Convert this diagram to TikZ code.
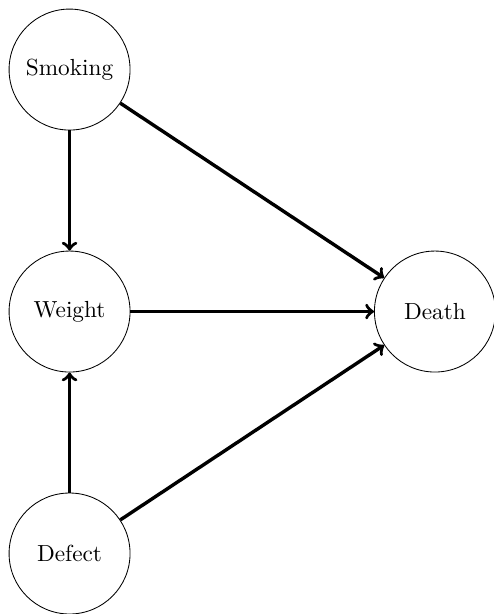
\documentclass[tikz,border=0pt]{standalone}
\begin{document}
\begin{tikzpicture}[
  var/.style={circle,draw,minimum size=2cm,inner sep=0pt,font=\fontsize{10.95}{13.6}\selectfont},
  edge/.style={->,line width=1.6pt}
]
\useasboundingbox (-1.15,-1.0) rectangle (7.0,9.15);
\node[var] (smoking) at (0,8) {Smoking};
\node[var] (weight) at (0,4) {Weight};
\node[var] (defect) at (0,0) {Defect};
\node[var] (death) at (6.04,4) {Death};
\draw[edge] (smoking) -- (weight);
\draw[edge] (smoking) -- (death);
\draw[edge] (weight) -- (death);
\draw[edge] (defect) -- (weight);
\draw[edge] (defect) -- (death);
\end{tikzpicture}
\end{document}
